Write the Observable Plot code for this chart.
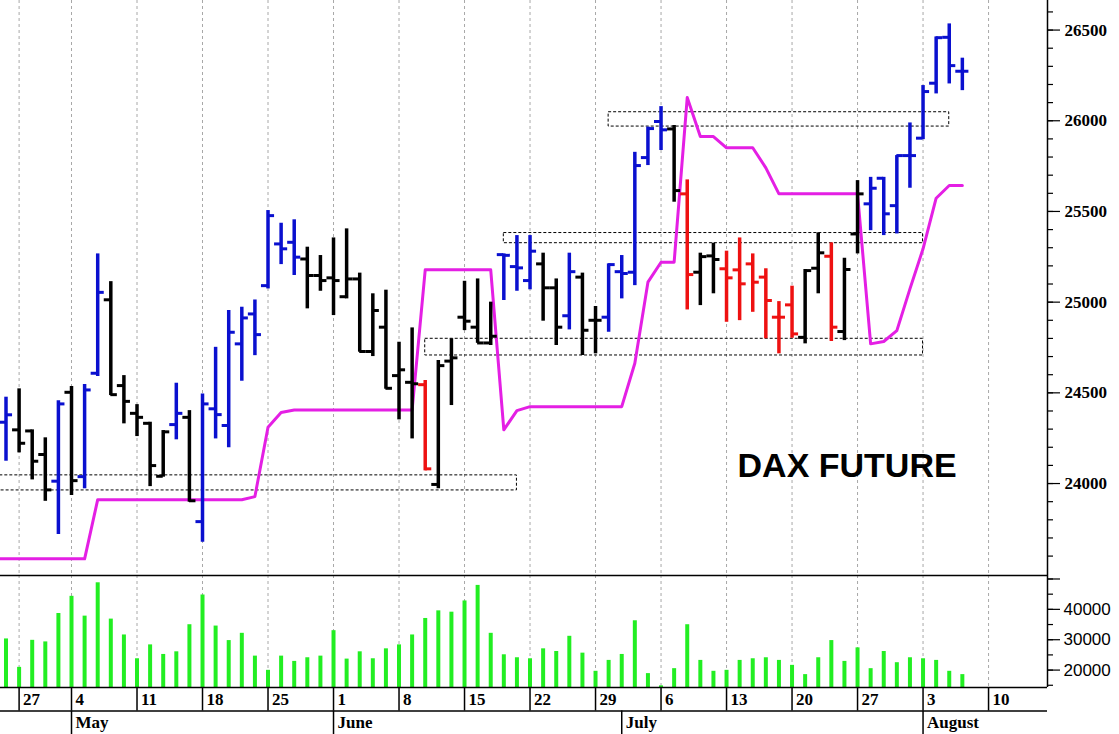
<!DOCTYPE html>
<html>
<head>
<meta charset="utf-8">
<script src="https://cdn.jsdelivr.net/npm/d3@7"></script>
<script src="https://cdn.jsdelivr.net/npm/@observablehq/plot@0.6"></script>
<style>
  html, body { margin: 0; padding: 0; background: #fff; }
  #chart { width: 1119px; }
  #chart svg { display: block; }
</style>
</head>
<body>
<div id="chart"></div>
<script>
// ---------- DATA ----------
const firstDay = "2026-04-24";           // trading day index 0
const holidays = ["2026-05-01"];

const opens  = [24338,24296,24290,24160,24013,24503,24038,24608,25013,24540,
                24387,24332,24040,24325,24365,23790,24412,24320,24770,24935,
                25091,25321,25330,25238,25147,25134,25030,25128,24728,24862,
                24595,24558,24545,23995,24675,24917,24862,24775,25262,25196,
                25119,25211,25079,24925,25138,24900,24917,25168,25165,25797,
                25996,25955,25597,25165,25255,25184,25178,25211,25138,24917,
                24985,24806,25187,25253,24838,25376,25542,25683,25532,25808,
                25904,26207,26460,26273];
const highs  = [24476,24522,24296,24252,24457,24535,24546,25266,25113,24595,
                24435,24338,24292,24553,24402,24494,24751,24954,24972,25012,
                25505,25435,25454,25303,25257,25354,25404,25160,25046,25066,
                24779,24858,24568,24678,24798,25115,25128,25000,25266,25367,
                25367,25270,25128,25270,25160,24976,25211,25257,25826,25965,
                26078,25974,25674,25270,25325,25281,25354,25266,25184,25003,
                25088,25180,25382,25327,25242,25670,25688,25688,25808,25988,
                26194,26462,26534,26345];
const lows   = [24123,24169,24020,23902,23719,23934,23971,24590,24485,24329,
                24259,23983,24035,24241,23897,23676,24246,24197,24564,24705,
                25073,25207,25147,24963,25060,24926,25018,24724,24700,24520,
                24351,24246,24070,23971,24430,24843,24773,24761,25009,25060,
                25068,24895,24761,24847,24706,24715,24834,25018,25091,25753,
                25836,25551,24957,24981,25046,24889,24898,24944,24798,24715,
                24801,24770,25046,24783,24788,25266,25394,25367,25376,25628,
                25896,26148,26203,26166];
const closes = [24379,24222,24123,23965,24439,24016,24516,25054,24490,24453,
                24365,24099,24285,24387,23905,24439,24380,24834,24913,24821,
                25477,25294,25248,25147,25119,25119,25128,24728,24954,24525,
                24627,24550,24081,24650,24693,24895,24775,24812,25258,25189,
                25281,25079,24862,25168,24845,24900,25207,25158,25753,25957,
                25950,25615,25152,25251,25235,25134,25101,25110,25009,24917,
                24825,25174,25272,24862,25180,25597,25628,25487,25808,25808,
                26161,26458,26304,26273];
// b = blue, k = black, r = red
const barColors = ["b","k","k","k","b","k","b","b","k","k",
                   "k","k","k","b","k","b","b","b","b","b",
                   "b","b","b","k","k","k","k","k","k","k",
                   "k","k","r","k","k","k","k","k","b","b",
                   "b","k","k","b","k","k","b","b","b","b",
                   "b","k","r","k","k","r","r","r","r","r",
                   "r","k","k","r","k","k","b","b","b","b",
                   "b","b","b","b"];
const volumes = [30260,20900,29800,29280,38640,44290,37770,48750,36790,31570,
                 23730,28300,25150,26020,34940,44730,34500,29720,32110,24600,
                 19920,24600,22860,24060,24600,32980,23620,26020,23730,27000,
                 28300,31570,37000,39510,39070,42770,47890,32110,25040,24060,
                 23730,27000,26130,31130,25580,19600,23190,25150,36240,18840,
                 14810,20470,34940,23190,19600,19920,23190,23730,24060,23190,
                 21560,18510,24060,29720,22860,27320,20470,26130,22430,24060,
                 23730,23190,19600,18510];
// stop line starts one trading day earlier (Apr 23) so it runs in from the left edge
const stopFirstDay = "2026-04-23";
const stopLine = [23585,
                  23585,23585,23585,23585,23585,23585,23585,23911,23911,23911,
                  23911,23911,23911,23911,23911,23911,23911,23911,23911,23928,
                  24310,24392,24405,24405,24405,24405,24405,24405,24405,24405,
                  24405,24405,25178,25178,25178,25178,25178,25178,24296,24402,
                  24424,24424,24424,24424,24424,24424,24424,24424,24663,25110,
                  25220,25220,26128,25913,25913,25851,25851,25851,25740,25597,
                  25597,25597,25597,25597,25597,25597,24770,24783,24843,25073,
                  25294,25573,25643,25643];

const zoneStart = ["2026-04-22","2026-06-10","2026-06-18","2026-06-30"];
const zoneEnd   = ["2026-06-19","2026-08-03","2026-08-03","2026-08-05"];
const zoneLow   = [23962, 24706, 25325, 25968];
const zoneHigh  = [24045, 24798, 25381, 26047];

const weekTickDates  = ["2026-04-27","2026-05-04","2026-05-11","2026-05-18","2026-05-25",
                        "2026-06-01","2026-06-08","2026-06-15","2026-06-22","2026-06-29",
                        "2026-07-06","2026-07-13","2026-07-20","2026-07-27","2026-08-03","2026-08-10"];
const weekTickLabels = ["27","4","11","18","25","1","8","15","22","29","6","13","20","27","3","10"];
const monthStartDates = ["2026-05-04","2026-06-01","2026-07-01","2026-08-03"];
const monthLabels     = ["May","June","July","August"];

const priceLabelTicks = [24000, 24500, 25000, 25500, 26000, 26500];
const volumeMajorTicks = [20000, 30000, 40000, 50000];
const volumeLabelMax = 40000;
const titleText = "DAX FUTURE";

// ---------- HELPERS ----------
const fmt = d3.utcFormat("%Y-%m-%d");
function tradingIndex(dateStr) {
  const t0 = new Date(firstDay + "T00:00:00Z");
  const t = new Date(dateStr + "T00:00:00Z");
  const fwd = t >= t0;
  const [a, b] = fwd ? [t0, t] : [t, t0];
  const n = d3.utcDay.range(a, b)
    .filter(d => d.getUTCDay() % 6 !== 0 && !holidays.includes(fmt(d))).length;
  return fwd ? n : -n;
}

const colorMap = {b: "#0a10cf", k: "#000000", r: "#ee1111"};
const bars = opens.map((o, i) => ({
  i, open: o, high: highs[i], low: lows[i], close: closes[i],
  color: colorMap[barColors[i]], vol: volumes[i]
}));
const stopStart = tradingIndex(stopFirstDay);
const stops = stopLine.map((v, k) => ({i: stopStart + k, stop: v}));
const zones = zoneStart.map((s, k) => ({
  x1: tradingIndex(s), x2: tradingIndex(zoneEnd[k]), lo: zoneLow[k], hi: zoneHigh[k]
}));
const weekTicks = weekTickDates.map((d, k) => ({i: tradingIndex(d), label: weekTickLabels[k]}));
const monthTicks = monthStartDates.map((d, k) => ({i: tradingIndex(d), label: monthLabels[k]}));
const titleAnchor = {i: tradingIndex("2026-07-13") + 0.84, price: 24095, text: titleText};

// ---------- LAYOUT ----------
const W = 1119, MR = 72;
const xScale = {type: "linear", domain: [-0.42, 79.5], axis: null};
const priceDomain = [23493, 26663];
const volDomain = [14265, 51150];
const tickLen = 0.5;
const magenta = "#e41fe4";
const green = "#22ee22";
const serif = "Liberation Serif, Times New Roman, serif";
const sans = "Liberation Sans, Arial, sans-serif";
const grid = {stroke: "#a8a8a8", strokeDasharray: "3,3", strokeWidth: 1};

const pricePlot = Plot.plot({
  width: W, height: 575,
  marginLeft: 0, marginRight: MR, marginTop: 0, marginBottom: 0,
  x: xScale,
  y: {domain: priceDomain, axis: null},
  color: {type: "identity"},
  style: {overflow: "visible", background: "transparent"},
  marks: [
    Plot.ruleX(weekTicks, {x: "i", ...grid}),
    Plot.rect(zones, {x1: "x1", x2: "x2", y1: "lo", y2: "hi", fill: "none",
      stroke: "#000", strokeDasharray: "3,2", strokeWidth: 1, clip: true}),
    Plot.line(stops, {x: "i", y: "stop", stroke: magenta, strokeWidth: 3, clip: true}),
    Plot.ruleX(bars, {x: "i", y1: "low", y2: "high", stroke: "color", strokeWidth: 3.5}),
    Plot.ruleY(bars, {y: "open", x1: d => d.i - tickLen, x2: "i", stroke: "color", strokeWidth: 3}),
    Plot.ruleY(bars, {y: "close", x1: "i", x2: d => d.i + tickLen, stroke: "color", strokeWidth: 3}),
    Plot.text([titleAnchor], {x: "i", y: "price", text: "text", textAnchor: "start",
      fontSize: 34, fontWeight: "bold", fontFamily: sans, fill: "#000"}),
    Plot.axisY(d3.range(23600, 26700, 100), {anchor: "right", tickSize: 5, text: null,
      label: null, strokeWidth: 1.2}),
    Plot.axisY(priceLabelTicks, {anchor: "right", tickSize: 12, tickPadding: 5, strokeWidth: 1.2,
      label: null, tickFormat: d => String(d), fontSize: 17, fontWeight: "bold",
      fontFamily: serif, fill: "#000"}),
    Plot.ruleX([xScale.domain[1]], {stroke: "#000", strokeWidth: 1.5})
  ]
});

const volumePlot = Plot.plot({
  width: W, height: 112,
  marginLeft: 0, marginRight: MR, marginTop: 0, marginBottom: 0,
  x: xScale,
  y: {domain: volDomain, axis: null, label: null},
  style: {overflow: "visible", background: "transparent"},
  marks: [
    Plot.ruleX(weekTicks, {x: "i", ...grid}),
    Plot.ruleX(bars, {x: "i", y1: volDomain[0], y2: "vol", stroke: green, strokeWidth: 4}),
    Plot.axisY(d3.range(15000, 51000, 5000), {anchor: "right", tickSize: 5, text: null,
      label: null, strokeWidth: 1.2}),
    Plot.axisY(volumeMajorTicks, {anchor: "right", tickSize: 12, tickPadding: 4, strokeWidth: 1.2,
      label: null, tickFormat: d => d <= volumeLabelMax ? String(d) : "",
      fontSize: 17, fontFamily: sans, fill: "#000"}),
    Plot.ruleY([volDomain[1]], {stroke: "#000", strokeWidth: 1.5}),
    Plot.ruleX([xScale.domain[1]], {stroke: "#000", strokeWidth: 1.5})
  ]
});

const axisPlot = Plot.plot({
  width: W, height: 47,
  marginLeft: 0, marginRight: MR, marginTop: 0, marginBottom: 0,
  x: xScale,
  y: {domain: [0, 2], range: [0, 47], axis: null},
  style: {overflow: "visible", background: "transparent"},
  marks: [
    Plot.ruleY([0, 1], {stroke: "#000", strokeWidth: 1.5}),
    Plot.ruleX(weekTicks, {x: "i", y1: 0, y2: 1, stroke: "#000", strokeWidth: 1.5}),
    Plot.ruleX(monthTicks, {x: "i", y1: 1, y2: 2, stroke: "#000", strokeWidth: 1.5}),
    Plot.text(weekTicks, {x: "i", y: 0.5, text: "label", textAnchor: "start", dx: 4,
      fontSize: 17, fontWeight: "bold", fontFamily: serif, fill: "#000"}),
    Plot.text(monthTicks, {x: "i", y: 1.5, text: "label", textAnchor: "start", dx: 4,
      fontSize: 17, fontWeight: "bold", fontFamily: serif, fill: "#000"})
  ]
});

const chart = document.getElementById("chart");
chart.append(pricePlot, volumePlot, axisPlot);
</script>
</body>
</html>
